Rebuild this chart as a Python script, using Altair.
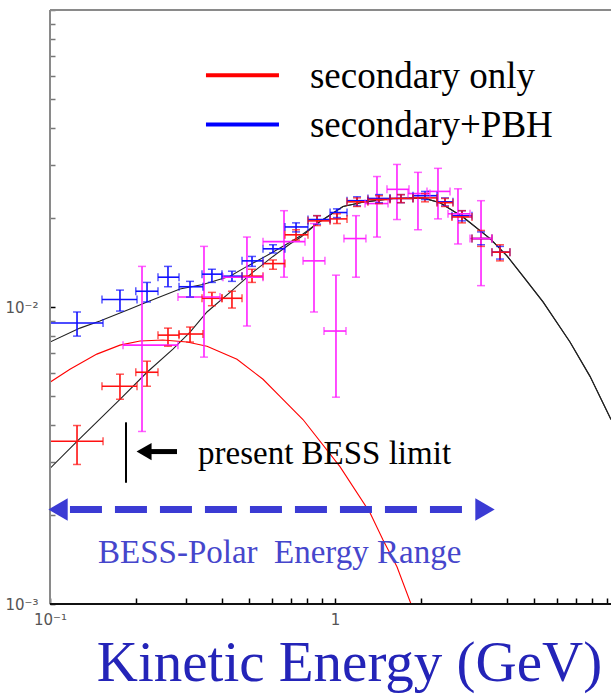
import altair as alt
import pandas as pd

# ---------------- curves (kinetic energy GeV, flux) ----------------
upper_x = [0.1, 0.1274, 0.1497, 0.1909, 0.219, 0.2858, 0.344, 0.428, 0.491, 0.5916, 0.6785, 0.760, 0.865,
           1.067, 1.275, 1.598, 2.036, 2.336, 2.812, 3.50, 4.013, 4.566, 5.370, 6.677, 7.849, 9.30]
upper_y = [0.00762, 0.00849, 0.00897, 0.00984, 0.0104, 0.0115, 0.0119, 0.0127, 0.0137, 0.0151, 0.0163, 0.0174, 0.0191,
           0.0218, 0.0226, 0.0232, 0.0233, 0.02245, 0.0201, 0.0170, 0.01487, 0.0127, 0.0104, 0.00762, 0.00584, 0.00418]
lower_x = [0.1, 0.1244, 0.176, 0.219, 0.270, 0.310, 0.3555, 0.428, 0.5155, 0.606, 0.695, 0.760, 0.865,
           1.067, 1.275, 1.598, 2.036, 2.336, 2.812, 3.50, 4.013, 4.566, 5.370, 6.677, 7.849, 9.30]
lower_y = [0.00286, 0.00353, 0.00489, 0.00603, 0.00721, 0.00823, 0.00962, 0.0112, 0.0131, 0.0148, 0.0163, 0.0172, 0.0191,
           0.0218, 0.0226, 0.0232, 0.0233, 0.02245, 0.0201, 0.0170, 0.01487, 0.0127, 0.0104, 0.00762, 0.00584, 0.00418]
redcurve_x = [0.1, 0.1175, 0.146, 0.176, 0.207, 0.249, 0.3025, 0.3555, 0.453, 0.559, 0.641, 0.772, 1.041,
              1.327, 1.473, 1.65, 1.848]
redcurve_y = [0.00558, 0.00617, 0.00694, 0.00744, 0.00768, 0.00774, 0.00762, 0.00738, 0.00667, 0.00571, 0.0050,
              0.00418, 0.0029, 0.00203, 0.001645, 0.001334, 0.001]

# ---------------- data points with error bars ----------------
sim_E = [0.1244, 0.176, 0.219, 0.2594, 0.310, 0.370, 0.435, 0.5115, 0.606, 0.730, 0.865, 1.016, 1.195, 1.427,
         1.704, 2.069, 2.432, 2.790, 3.254, 3.793]
sim_Elo = [0.1, 0.1522, 0.200, 0.2393, 0.2836, 0.3415, 0.4013, 0.4718, 0.559, 0.6677, 0.804, 0.961, 1.102, 1.305,
           1.560, 1.878, 2.280, 2.573, 3.025, 3.555]
sim_Ehi = [0.1535, 0.202, 0.2393, 0.2836, 0.344, 0.4013, 0.4718, 0.559, 0.6677, 0.804, 0.961, 1.102, 1.305, 1.560,
           1.878, 2.280, 2.594, 3.025, 3.555, 4.111]

red_F = [0.00353, 0.00541, 0.00603, 0.00804, 0.00811, 0.0107, 0.0107, 0.0127, 0.0140, 0.0175, 0.0195, 0.0198,
         0.0226, 0.0230, 0.0232, 0.0233, 0.02245, 0.0201, 0.0170, 0.0153]
red_Fhi = [0.00399, 0.00594, 0.00657, 0.00849, 0.00856, 0.0112, 0.0113, 0.0134, 0.0144, 0.0182, 0.0203, 0.0206,
           0.0233, 0.0237, 0.0239, 0.0241, 0.0232, 0.0211, 0.0181, 0.0162]
red_Flo = [0.00295, 0.00489, 0.00541, 0.00738, 0.00762, 0.0101, 0.00992, 0.0121, 0.0134, 0.0168, 0.0188, 0.0191,
           0.0218, 0.0223, 0.02245, 0.0226, 0.0218, 0.0192, 0.0160, 0.0143]

blue_F = [0.00883, 0.0106, 0.0113, 0.0126, 0.0117, 0.0129, 0.0127, 0.0143, 0.0157, 0.0186, 0.0197, 0.0208,
          0.0228, 0.0232, 0.0232, 0.0237, 0.0226, 0.0203, 0.0170, 0.0153]
blue_Fhi = [0.00962, 0.0114, 0.0121, 0.0137, 0.0122, 0.0134, 0.0132, 0.0148, 0.0162, 0.0192, 0.0203, 0.0214,
            0.0235, 0.0239, 0.0239, 0.0245, 0.0233, 0.0211, 0.0179, 0.0160]
blue_Flo = [0.00798, 0.00969, 0.0104, 0.0117, 0.0108, 0.0121, 0.0122, 0.0137, 0.0152, 0.0179, 0.0190, 0.0200,
            0.0219, 0.02245, 0.02245, 0.0230, 0.0219, 0.0195, 0.0162, 0.0145]

bess_E = [0.2103, 0.347, 0.491, 0.6624, 0.844, 1.008, 1.185, 1.404, 1.650, 1.955, 2.298, 2.701, 3.254]
bess_Elo = [0.1804, 0.2812, 0.4046, 0.559, 0.7725, 0.915, 1.075, 1.275, 1.522, 1.804, 2.103, 2.492, 2.977]
bess_Ehi = [0.2812, 0.395, 0.559, 0.785, 0.922, 1.093, 1.284, 1.535, 1.818, 2.154, 2.533, 2.977, 3.555]
bess_F = [0.00744, 0.0108, 0.0126, 0.0166, 0.0143, 0.00830, 0.0170, 0.0223, 0.0249, 0.0241, 0.0245, 0.0206, 0.0170]
bess_Fhi = [0.0137, 0.0160, 0.0172, 0.0211, 0.0191, 0.0128, 0.0203, 0.0275, 0.0302, 0.0284, 0.0293, 0.0250, 0.0228]
bess_Flo = [0.00381, 0.00678, 0.00863, 0.0126, 0.00962, 0.00497, 0.0126, 0.0172, 0.0197, 0.0182, 0.0198, 0.0163,
            0.0118]

# ---------------- axes ----------------
x_ticks = [0.1, 0.2, 0.3, 0.4, 0.5, 0.6, 0.7, 0.8, 0.9, 1, 2, 3, 4, 5, 6, 7, 8, 9]
y_ticks = [0.001, 0.002, 0.003, 0.004, 0.005, 0.006, 0.007, 0.008, 0.009,
           0.01, 0.02, 0.03, 0.04, 0.05, 0.06, 0.07, 0.08, 0.09, 0.1]
x_domain = [0.1, 9.3]
y_domain = [0.001, 0.1]

# ---------------- annotations ----------------
legend_labels = ["secondary only", "secondary+PBH"]
legend_colors = ["#ff0000", "#0000ff"]
legend_line_x = [0.3526, 0.636]
legend_line_y = [0.0603, 0.0412]
legend_text_x = 0.817
legend_text_y = [0.0545, 0.0375]
limit_label = "present BESS limit"
limit_E = 0.1848
limit_F = [0.00409, 0.00256]
arrow_x = [0.2207, 0.279]
arrow_head_x = 0.2138
arrow_y = 0.00326
limit_text_x = 0.3307
limit_text_y = 0.00295
range_label = "BESS-Polar\u00a0 Energy Range"
range_x = [0.1175, 3.098]
range_heads_x = [0.1067, 3.36]
range_y = 0.00208
range_text_x = 0.1474
range_text_y = 0.001376

xs = alt.Scale(type="log", domain=x_domain, nice=False)
ys = alt.Scale(type="log", domain=y_domain, nice=False)

xaxis = alt.Axis(
    values=x_ticks,
    labelExpr="datum.value == 0.1 ? '10⁻¹' : (datum.value == 1 ? '1' : '')",
    offset=-6, tickSize=6, tickColor="black", tickWidth=1.5, domain=False, grid=False,
    labelFont="DejaVu Sans", labelFontSize=15, labelColor="#555555", labelPadding=8,
    labelOverlap=False, labelFlush=False,
    title="Kinetic Energy (GeV)", titleFont="Liberation Serif", titleFontSize=57,
    titleFontWeight="normal", titleColor="#2424b8", titleX=299, titleY=82,
    titleAlign="center", titleBaseline="alphabetic",
)
yaxis = alt.Axis(
    values=y_ticks,
    labelExpr="datum.value == 0.01 ? '10⁻²' : (datum.value == 0.001 ? '10⁻³' : '')",
    offset=-5, tickSize=5, tickWidth=1.5, domain=False, grid=False,
    tickColor={"condition": {"test": "datum.value == 0.01 || datum.value == 0.001", "value": "black"},
               "value": "#777777"},
    labelFont="DejaVu Sans", labelFontSize=15, labelColor="#555555", labelPadding=12,
    labelOverlap=False, labelFlush=False, title="",
)


def X(f):
    return alt.X(f, type="quantitative", scale=xs, axis=xaxis)


def Y(f):
    return alt.Y(f, type="quantitative", scale=ys, axis=yaxis)


# data frames
curves = pd.DataFrame(
    [{"E": a, "F": b, "curve": "upper"} for a, b in zip(upper_x, upper_y)]
    + [{"E": a, "F": b, "curve": "lower"} for a, b in zip(lower_x, lower_y)]
)
redcurve = pd.DataFrame({"E": redcurve_x, "F": redcurve_y})

rows = []
for s, F, Flo, Fhi in [("blue", blue_F, blue_Flo, blue_Fhi), ("red", red_F, red_Flo, red_Fhi)]:
    for i in range(len(sim_E)):
        rows.append(dict(series=s, E=sim_E[i], Elo=sim_Elo[i], Ehi=sim_Ehi[i], F=F[i], Flo=Flo[i], Fhi=Fhi[i]))
for i in range(len(bess_E)):
    rows.append(dict(series="magenta", E=bess_E[i], Elo=bess_Elo[i], Ehi=bess_Ehi[i], F=bess_F[i],
                     Flo=bess_Flo[i], Fhi=bess_Fhi[i]))
pts = pd.DataFrame(rows)
color = alt.Color("series:N", scale=alt.Scale(domain=["blue", "red", "magenta"],
                                              range=["#1010ff", "#ff1010", "#ff20ff"]), legend=None)

base_curves = alt.Chart(curves).mark_line(color="#222222", strokeWidth=1.1, clip=True).encode(
    x=X("E"), y=Y("F"), detail="curve:N")
red_line = alt.Chart(redcurve).mark_line(color="#ff0000", strokeWidth=1.1, clip=True).encode(x=X("E"), y=Y("F"))

vbars = alt.Chart(pts).mark_rule(strokeWidth=1.6).encode(x=X("E"), y=Y("Flo"), y2="Fhi", color=color)
hbars = alt.Chart(pts).mark_rule(strokeWidth=1.6).encode(x=X("Elo"), x2="Ehi", y=Y("F"), color=color)
cap1 = alt.Chart(pts).mark_tick(orient="horizontal", size=8, thickness=1.5).encode(x=X("E"), y=Y("Flo"), color=color)
cap2 = alt.Chart(pts).mark_tick(orient="horizontal", size=8, thickness=1.5).encode(x=X("E"), y=Y("Fhi"), color=color)
cap3 = alt.Chart(pts).mark_tick(orient="vertical", size=8, thickness=1.5).encode(x=X("Elo"), y=Y("F"), color=color)
cap4 = alt.Chart(pts).mark_tick(orient="vertical", size=8, thickness=1.5).encode(x=X("Ehi"), y=Y("F"), color=color)

# frame
frame_left = alt.Chart().mark_rule(color="#8a8a8a", strokeWidth=2).encode(x=alt.datum(x_domain[0]))
frame_top = alt.Chart().mark_rule(color="#8a8a8a", strokeWidth=2).encode(y=alt.datum(y_domain[1]))
frame_bottom = alt.Chart().mark_rule(color="#111111", strokeWidth=2).encode(y=alt.datum(y_domain[0]))

# legend (one line per entry, fixed colours)
leg_layers = []
for i in range(2):
    df = pd.DataFrame({"E": legend_line_x, "F": [legend_line_y[i]] * 2})
    leg_layers.append(alt.Chart(df).mark_line(strokeWidth=4, color=legend_colors[i]).encode(x=X("E"), y=Y("F")))
leg_text = alt.Chart(pd.DataFrame({"E": [legend_text_x] * 2, "F": legend_text_y, "t": legend_labels})).mark_text(
    align="left", baseline="alphabetic", font="Liberation Serif", fontSize=37, color="black").encode(
    x=X("E"), y=Y("F"), text="t:N")

# BESS limit annotation
limit_line = alt.Chart(pd.DataFrame({"E": [limit_E], "F1": [limit_F[0]], "F2": [limit_F[1]]})).mark_rule(
    color="black", strokeWidth=2).encode(x=X("E"), y=Y("F1"), y2="F2")
arrow_shaft = alt.Chart(pd.DataFrame({"E": arrow_x, "F": [arrow_y] * 2})).mark_line(
    color="black", strokeWidth=5).encode(x=X("E"), y=Y("F"))
arrow_head = alt.Chart(pd.DataFrame({"E": [arrow_head_x], "F": [arrow_y]})).mark_point(
    shape="triangle-left", filled=True, size=300, color="black", opacity=1).encode(x=X("E"), y=Y("F"))
limit_text = alt.Chart(pd.DataFrame({"E": [limit_text_x], "F": [limit_text_y], "t": [limit_label]})).mark_text(
    align="left", baseline="alphabetic", font="Liberation Serif", fontSize=33, color="black").encode(
    x=X("E"), y=Y("F"), text="t:N")

# energy range annotation
range_line = alt.Chart(pd.DataFrame({"E": range_x, "F": [range_y] * 2})).mark_line(
    color="#3b3bd4", strokeWidth=7, strokeDash=[32, 13]).encode(x=X("E"), y=Y("F"))
range_heads = alt.Chart(pd.DataFrame({"E": range_heads_x, "F": [range_y] * 2,
                                      "s": ["triangle-left", "triangle-right"]})).mark_point(
    filled=True, size=500, color="#3b3bd4", opacity=1).encode(
    x=X("E"), y=Y("F"), shape=alt.Shape("s:N", scale=None, legend=None))
range_text = alt.Chart(pd.DataFrame({"E": [range_text_x], "F": [range_text_y], "t": [range_label]})).mark_text(
    align="left", baseline="alphabetic", font="Liberation Serif", fontSize=33, color="#4646cc").encode(
    x=X("E"), y=Y("F"), text="t:N")

chart = alt.layer(
    base_curves, red_line, vbars, hbars, cap1, cap2, cap3, cap4,
    frame_left, frame_top, frame_bottom,
    *leg_layers, leg_text, limit_line, arrow_shaft, arrow_head, limit_text,
    range_line, range_heads, range_text,
).properties(
    width=561, height=594,
    autosize=alt.AutoSizeParams(type="none"),
    padding={"left": 50, "top": 10, "right": 0, "bottom": 95},
    background="white",
).configure_view(stroke="transparent")

chart.save("out.html", embed_options={"renderer": "svg", "actions": False})
